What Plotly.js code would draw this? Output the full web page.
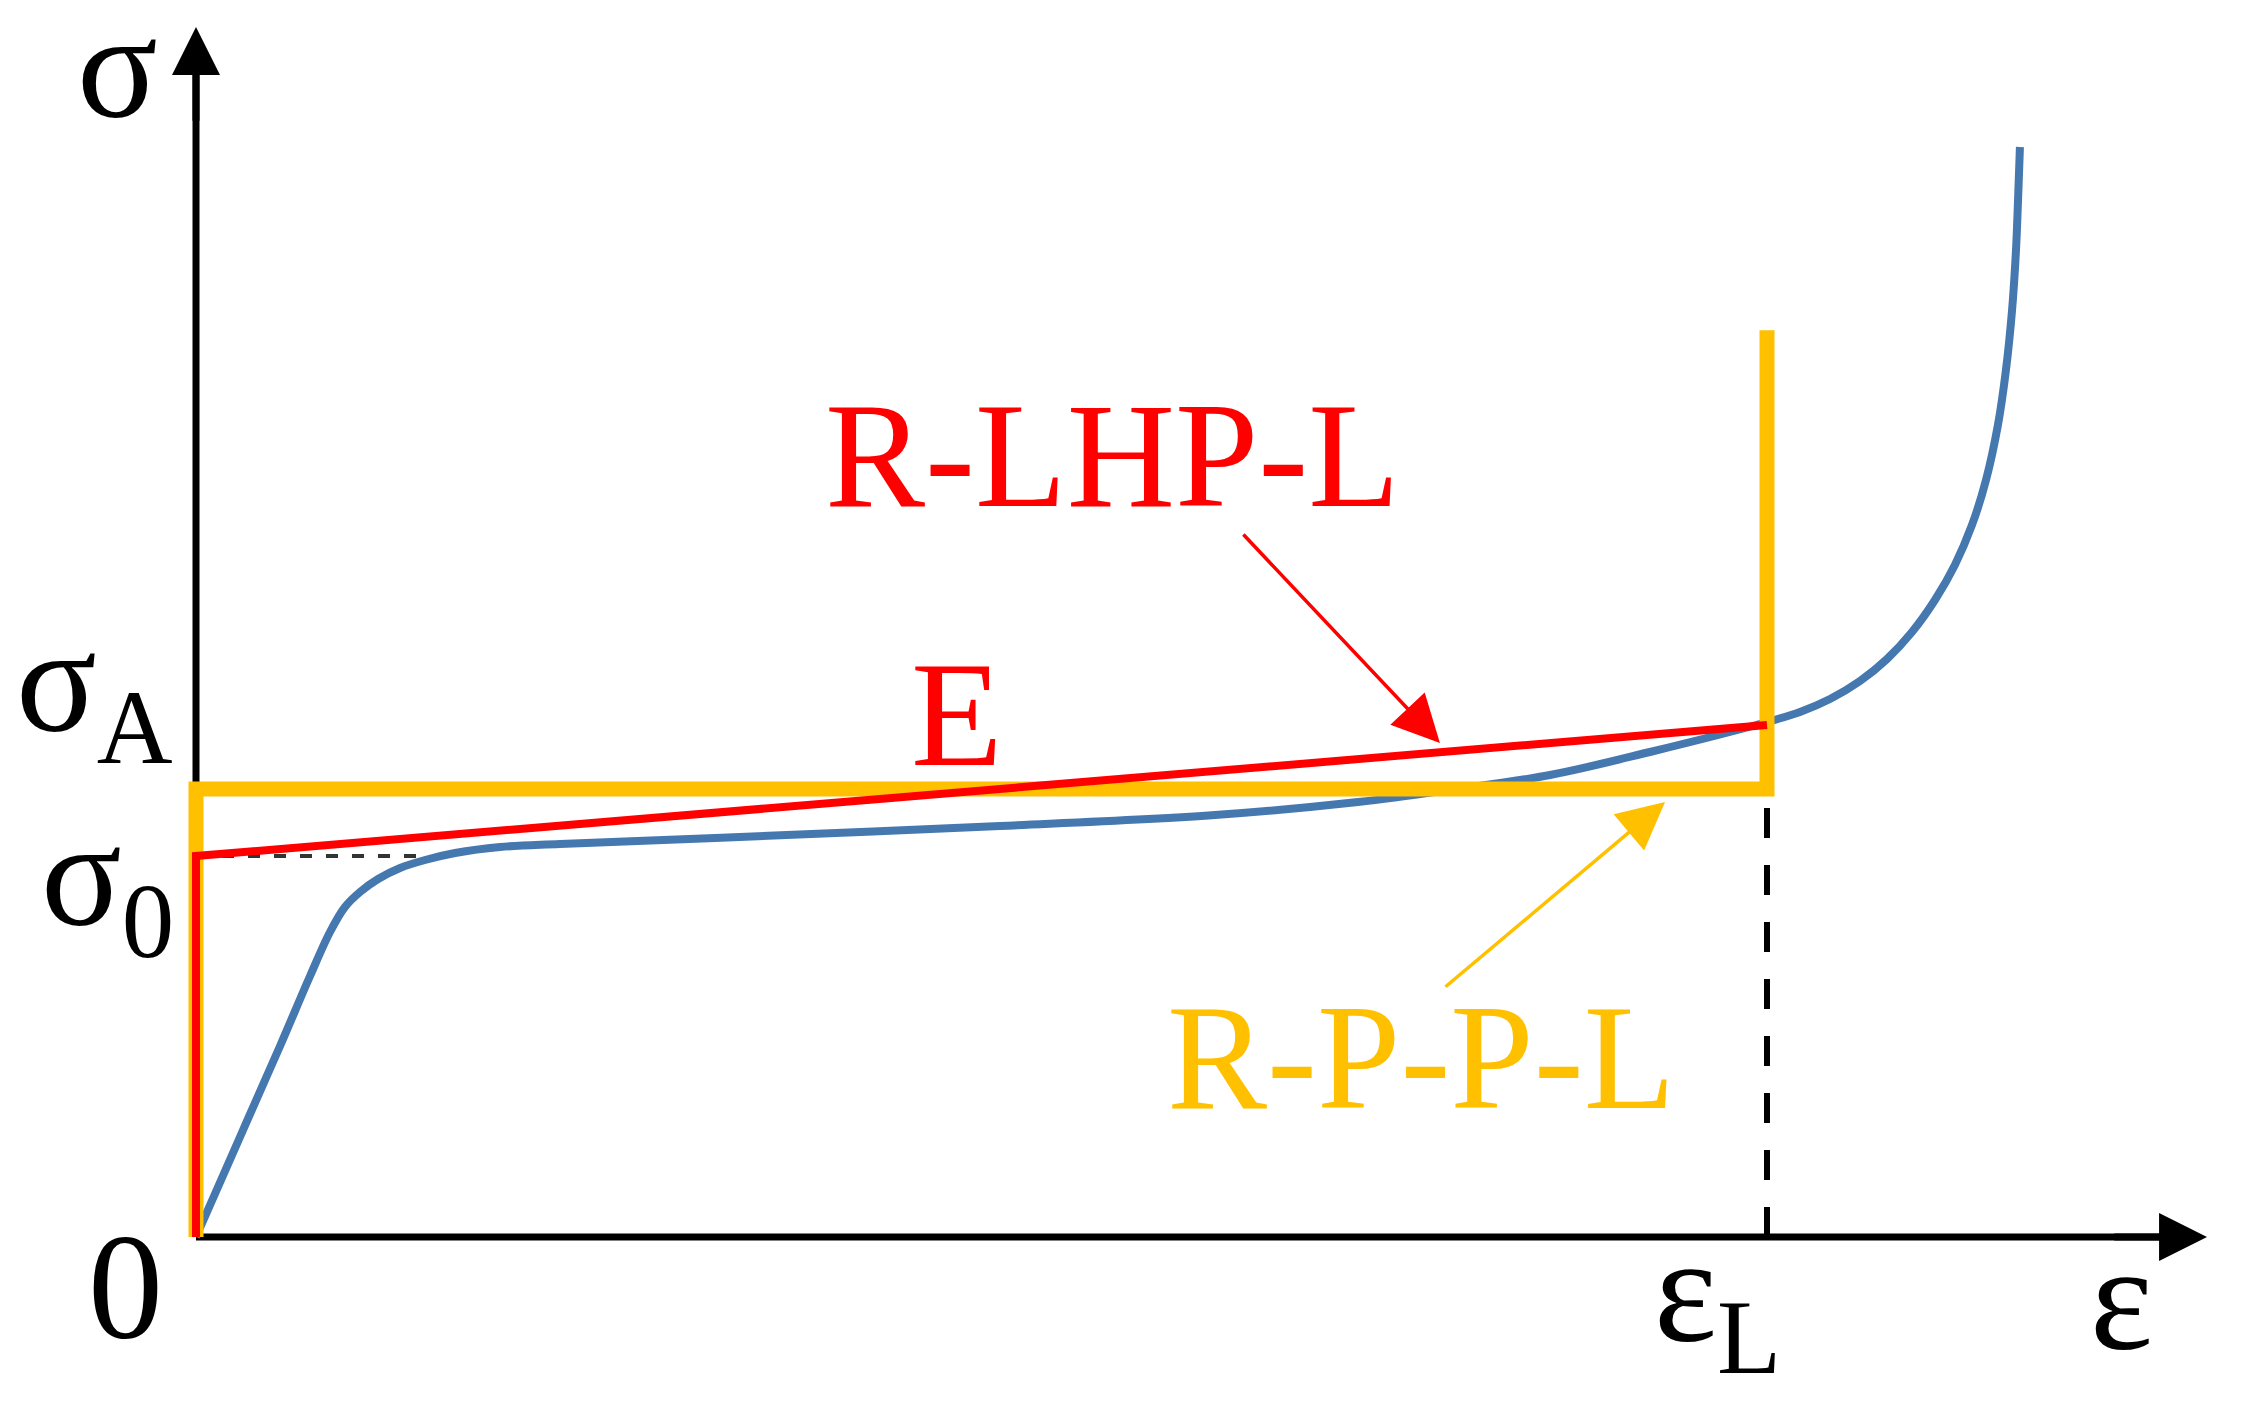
<!DOCTYPE html>
<html>
<head>
<meta charset="utf-8">
<script src="https://cdn.plot.ly/plotly-3.0.1.min.js"></script>
<style>html,body{margin:0;padding:0;background:#fff;}#chart{width:2241px;height:1403px;}</style>
</head>
<body>
<div id="chart"></div>
<script>
// ---- data (dimensionless: strain in units of eps_L, stress in units of sigma_0) ----
const strain = [0, 0.0280, 0.0535, 0.0726, 0.0853, 0.0948, 0.1044, 0.1159, 0.1299, 0.1458, 0.1649, 0.1935, 0.2317, 0.3304, 0.5118, 0.6486, 0.7397, 0.7982, 0.8619, 0.9255, 1.0000, 1.0210, 1.0401, 1.0592, 1.0764, 1.0923, 1.1069, 1.1196, 1.1305, 1.1394, 1.1470, 1.1521, 1.1560, 1.1585, 1.1598, 1.1610];
const stress = [0, 0.2625, 0.5013, 0.6850, 0.8005, 0.8661, 0.9055, 0.9396, 0.9685, 0.9895, 1.0079, 1.0236, 1.0315, 1.0472, 1.0787, 1.1076, 1.1417, 1.1732, 1.2126, 1.2730, 1.3517, 1.3780, 1.4121, 1.4593, 1.5171, 1.5879, 1.6719, 1.7638, 1.8688, 1.9869, 2.1312, 2.2756, 2.4331, 2.5906, 2.7218, 2.8609];

const sigma0 = 1.0;      // initial yield stress
const sigmaA = 1.176;    // plateau stress of R-P-P-L model
const epsL = 1.0;        // locking strain
const sigmaEnd = 1.344;  // stress at locking for R-LHP-L model
const sigmaLock = 2.38;  // top of locking segment
const kneeEnd = 0.149;   // end of sigma_0 guide line

const rlhpX = [0, 0, epsL];
const rlhpY = [0, sigma0, sigmaEnd];
const rppX = [0, 0, epsL, epsL];
const rppY = [0, sigmaA, sigmaA, sigmaLock];

const xMax = 1.2801, yMax = 3.1759;   // axis arrow tips

const FONT = 'Liberation Serif, Times New Roman, serif';
const RED = '#FF0000', GOLD = '#FFC000', BLUE = '#4678B0';

const traces = [
  {x: [0, kneeEnd], y: [sigma0, sigma0], mode: 'lines', line: {color: '#333', width: 4, dash: '12px,14px'}, hoverinfo: 'skip'},
  {x: [epsL, epsL], y: [0, sigmaA], mode: 'lines', line: {color: '#000', width: 6, dash: '30px,27px'}, hoverinfo: 'skip'},
  {x: strain, y: stress, mode: 'lines', line: {color: BLUE, width: 8, shape: 'spline', smoothing: 1}, hoverinfo: 'skip'},
  {x: rppX, y: rppY, mode: 'lines', line: {color: GOLD, width: 15}, hoverinfo: 'skip'},
  {x: rlhpX, y: rlhpY, mode: 'lines', line: {color: RED, width: 8}, hoverinfo: 'skip'}
];

function lbl(text, x, y, color, size) {
  return {text: text, x: x, y: y, xref: 'x', yref: 'y', showarrow: false,
          xanchor: 'center', yanchor: 'middle',
          font: {family: FONT, size: size || 150, color: color || '#000'}};
}
function arrow(x, y, ax, ay, color, width, size) {
  return {text: '', x: x, y: y, ax: ax, ay: ay, xref: 'x', yref: 'y', axref: 'x', ayref: 'y',
          showarrow: true, arrowhead: 2, arrowsize: size, arrowwidth: width, arrowcolor: color};
}

const sigmaTop = lbl('σ', -0.0497, 3.2467);
sigmaTop.yanchor = 'top';
sigmaTop.height = 147;
sigmaTop.valign = 'bottom';

const annotations = [
  // axis arrowheads
  arrow(xMax, 0, xMax - 0.06, 0, '#000', 7, 1.37),
  arrow(0, yMax, 0, yMax - 0.25, '#000', 7, 1.37),
  // axis labels
  sigmaTop,
  lbl('ε', 1.2254, -0.160),
  lbl('0', -0.0449, -0.1312),
  lbl('σ<sub>A</sub>', -0.0643, 1.433),
  lbl('σ<sub>0</sub>', -0.0563, 0.9213),
  lbl('ε<sub>L</sub>', 0.9682, -0.168),
  // model labels
  lbl('R-LHP-L', 0.5837, 2.0525, RED),
  lbl('E', 0.4844, 1.3727, RED),
  lbl('R-P-P-L', 0.7798, 0.4724, GOLD),
  arrow(0.7918, 1.2966, 0.6658, 1.8478, RED, 3.5, 2.7),
  arrow(0.9351, 1.1417, 0.7944, 0.6535, GOLD, 3.5, 2.7)
];

const shapes = [
  {type: 'line', xref: 'x', yref: 'y', x0: 0, y0: 0, x1: xMax - 0.02, y1: 0, layer: 'below', line: {color: '#000', width: 7}},
  {type: 'line', xref: 'x', yref: 'y', x0: 0, y0: 0, x1: 0, y1: yMax - 0.05, layer: 'below', line: {color: '#000', width: 7}}
];

const layout = {
  width: 2241, height: 1403, autosize: false,
  margin: {l: 0, r: 0, t: 0, b: 0, pad: 0},
  paper_bgcolor: '#fff', plot_bgcolor: '#fff',
  showlegend: false,
  xaxis: {range: [-0.12476, 1.30172], visible: false, fixedrange: true},
  yaxis: {range: [-0.43570, 3.24672], visible: false, fixedrange: true},
  annotations: annotations,
  shapes: shapes
};

Plotly.newPlot('chart', traces, layout, {staticPlot: true, displayModeBar: false});
</script>
</body>
</html>
